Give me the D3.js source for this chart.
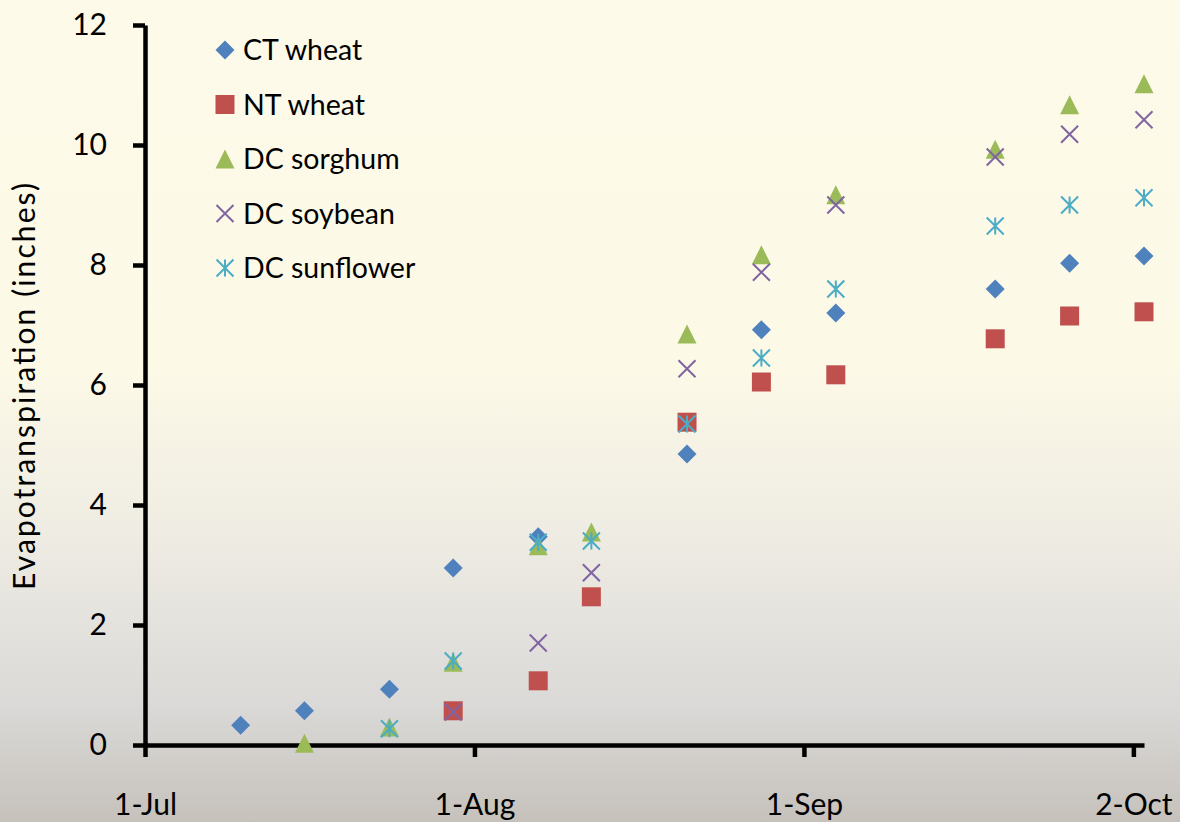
<!DOCTYPE html>
<html>
<head>
<meta charset="utf-8">
<script src="https://cdn.jsdelivr.net/npm/d3@7"></script>
<style>
  html, body { margin: 0; padding: 0; background: #fff; }
  svg text { font-family: Lato, "Open Sans", sans-serif; fill: #000; }
</style>
</head>
<body>
<svg class="main" width="1180" height="822"></svg>
<script>
// sampling dates and cumulative ET (inches) per treatment
var DATES = ["2012-07-10", "2012-07-16", "2012-07-24", "2012-07-30", "2012-08-07", "2012-08-12",
             "2012-08-21", "2012-08-28", "2012-09-04", "2012-09-19", "2012-09-26", "2012-10-03"];
var CT_WHEAT     = [0.33, 0.57, 0.93, 2.95, 3.47, null, 4.85, 6.92, 7.20, 7.60, 8.03, 8.15];
var NT_WHEAT     = [null, null, null, 0.57, 1.07, 2.47, 5.38, 6.05, 6.17, 6.77, 7.15, 7.22];
var DC_SORGHUM   = [null, 0.03, 0.30, 1.38, 3.32, 3.55, 6.85, 8.17, 9.17, 9.93, 10.67, 11.02];
var DC_SOYBEAN   = [null, null, null, 0.55, 1.70, 2.87, 6.27, 7.88, 9.00, 9.80, 10.18, 10.42];
var DC_SUNFLOWER = [null, null, 0.27, 1.40, 3.38, 3.40, 5.35, 6.45, 7.60, 8.65, 9.00, 9.12];

var SERIES_NAMES = ["CT wheat", "NT wheat", "DC sorghum", "DC soybean", "DC sunflower"];
var X_TICKS = ["2012-07-01", "2012-08-01", "2012-09-01", "2012-10-02"];
var X_DOMAIN = ["2012-07-01", "2012-10-03"];
var Y_TICKS = [0, 2, 4, 6, 8, 10, 12];

var parseDate = d3.utcParse("%Y-%m-%d");

// excel-ish marker shapes
var symDiamond = {
  draw: function(ctx, size) {
    var r = Math.sqrt(size) / 2;
    ctx.moveTo(0, -r); ctx.lineTo(r, 0); ctx.lineTo(0, r); ctx.lineTo(-r, 0); ctx.closePath();
  }
};
var symSquare = {
  draw: function(ctx, size) {
    var r = Math.sqrt(size) / 2;
    ctx.rect(-r, -r, 2 * r, 2 * r);
  }
};
var symTriangle = {
  draw: function(ctx, size) {
    var r = Math.sqrt(size) / 2;
    ctx.moveTo(0, -r); ctx.lineTo(r, r); ctx.lineTo(-r, r); ctx.closePath();
  }
};
var symX = {
  draw: function(ctx, size) {
    var r = Math.sqrt(size) / 2;
    ctx.moveTo(-r, -r); ctx.lineTo(r, r); ctx.moveTo(-r, r); ctx.lineTo(r, -r);
  }
};
var symStar = {
  draw: function(ctx, size) {
    var r = Math.sqrt(size) / 2;
    ctx.moveTo(-r, -r); ctx.lineTo(r, r); ctx.moveTo(-r, r); ctx.lineTo(r, -r);
    ctx.moveTo(0, -r); ctx.lineTo(0, r);
  }
};

var MARKERS = [
  { type: symDiamond,  size: 19 * 19, fill: "#4F81BD", stroke: null },
  { type: symSquare,   size: 19 * 19, fill: "#C0504D", stroke: null },
  { type: symTriangle, size: 19 * 19, fill: "#9BBB59", stroke: null },
  { type: symX,        size: 17 * 17, fill: "none",    stroke: "#8064A2" },
  { type: symStar,     size: 17 * 17, fill: "none",    stroke: "#4BACC6" }
];

function drawChart() {
  var svg = d3.select("svg.main");
  var width = 1180, height = 822;
  var margin = { left: 145, top: 25, right: 36, bottom: 77 };

  // background gradient
  var defs = svg.append("defs");
  var grad = defs.append("linearGradient")
    .attr("id", "bg").attr("x1", 0).attr("y1", 0).attr("x2", 0).attr("y2", 1);
  [["0%", "#FDFAE9"], ["45%", "#FCF9E7"], ["66%", "#EEEBE3"], ["86%", "#DAD9D7"], ["100%", "#C6C1BB"]]
    .forEach(function(s) { grad.append("stop").attr("offset", s[0]).attr("stop-color", s[1]); });
  svg.append("rect").attr("width", width).attr("height", height).attr("fill", "url(#bg)");

  var x = d3.scaleUtc()
    .domain(X_DOMAIN.map(parseDate))
    .range([margin.left, width - margin.right]);
  var y = d3.scaleLinear()
    .domain([0, 12])
    .range([height - margin.bottom, margin.top]);

  // axes
  var yAxis = d3.axisLeft(y).tickValues(Y_TICKS).tickSize(12).tickPadding(26).tickSizeOuter(0);
  var gy = svg.append("g").attr("transform", "translate(" + margin.left + ",0)").call(yAxis);

  var xAxis = d3.axisBottom(x).tickValues(X_TICKS.map(parseDate))
    .tickFormat(d3.utcFormat("%-d-%b")).tickSize(12).tickSizeOuter(0);
  var gx = svg.append("g").attr("transform", "translate(0," + y(0) + ")").call(xAxis);

  [gx, gy].forEach(function(g) {
    g.select(".domain").attr("stroke", "#000").attr("stroke-width", 4.5);
    g.selectAll(".tick line").attr("stroke", "#000").attr("stroke-width", 4.5);
    g.selectAll(".tick text").attr("font-size", 30).attr("font-family", "Lato, sans-serif").attr("fill", "#000");
  });
  gx.selectAll(".tick text").attr("y", 70).attr("dy", 0);
  gy.selectAll(".tick text").attr("x", -38);

  svg.append("text")
    .attr("transform", "translate(35,386.5) rotate(-90)")
    .attr("text-anchor", "middle")
    .attr("font-size", 30)
    .attr("textLength", 407)
    .attr("lengthAdjust", "spacing")
    .text("Evapotranspiration (inches)");

  // points
  var allSeries = [CT_WHEAT, NT_WHEAT, DC_SORGHUM, DC_SOYBEAN, DC_SUNFLOWER];
  allSeries.forEach(function(vals, i) {
    var m = MARKERS[i];
    var pts = DATES.map(function(d, j) { return { date: parseDate(d), v: vals[j] }; })
      .filter(function(p) { return p.v != null; });
    svg.append("g").selectAll("path")
      .data(pts)
      .enter().append("path")
      .attr("d", d3.symbol().type(m.type).size(m.size))
      .attr("transform", function(p) { return "translate(" + x(p.date) + "," + y(p.v) + ")"; })
      .attr("fill", m.fill)
      .attr("stroke", m.stroke || "none")
      .attr("stroke-width", 2);
  });

  // legend
  var legend = svg.append("g").attr("transform", "translate(225,50)");
  SERIES_NAMES.forEach(function(name, i) {
    var m = MARKERS[i];
    var row = legend.append("g").attr("transform", "translate(0," + (i * 54.5) + ")");
    row.append("path")
      .attr("d", d3.symbol().type(m.type).size(m.size))
      .attr("fill", m.fill)
      .attr("stroke", m.stroke || "none")
      .attr("stroke-width", 2);
    row.append("text")
      .attr("x", 18)
      .attr("y", 10)
      .attr("font-size", 28.5)
      .text(name);
  });
}

drawChart();
</script>
</body>
</html>
